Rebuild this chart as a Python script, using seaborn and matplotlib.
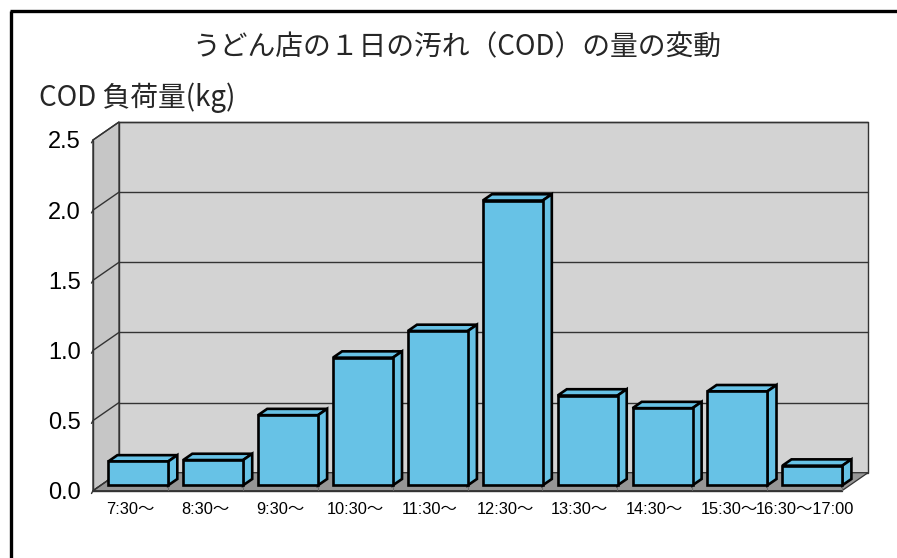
import matplotlib
matplotlib.use("Agg")
import matplotlib.pyplot as plt
from matplotlib.patches import Polygon
from matplotlib.lines import Line2D
from matplotlib import font_manager
import seaborn as sns
import pandas as pd

# ---- data ----
categories = ["7:30～", "8:30～", "9:30～", "10:30～", "11:30～", "12:30～",
              "13:30～", "14:30～", "15:30～", "16:30～17:00"]
cod_kg = [0.17, 0.18, 0.50, 0.91, 1.10, 2.03, 0.64, 0.55, 0.67, 0.14]
y_ticks = [0.0, 0.5, 1.0, 1.5, 2.0, 2.5]
y_tick_labels = ["0.0", "0.5", "1.0", "1.5", "2.0", "2.5"]
title = "うどん店の１日の汚れ（COD）の量の変動"
ylabel = "COD 負荷量(kg)"

sns.set_theme(style="white")
plt.rcParams['font.family'] = ['Noto Sans CJK JP', 'DejaVu Sans']

names = {f.name for f in font_manager.fontManager.ttflist}
narrow = 'Liberation Sans Narrow' if 'Liberation Sans Narrow' in names else 'Liberation Sans'

W, H = 897, 558
fig = plt.figure(figsize=(W / 100, H / 100), dpi=100)
fig.patch.set_facecolor("white")

# front plane of the plot box in pixels
x0p, x1p, ybp, ytp = 93, 842, 490.7, 140
ax = fig.add_axes([x0p / W, (H - ybp) / H, (x1p - x0p) / W, (ybp - ytp) / H])
ax.patch.set_visible(False)
for s in ax.spines.values():
    s.set_visible(False)

df = pd.DataFrame({"time": categories, "cod": cod_kg})
sns.barplot(data=df, x="time", y="cod", color="#67C2E6", saturation=1,
            edgecolor="black", linewidth=1.9, width=0.8, ax=ax, zorder=5)
bars = list(ax.patches)

n = len(categories)
xmin, xmax = -0.5, n - 0.5
ymax = 2.5
ax.set_xlim(xmin, xmax)
ax.set_ylim(0, ymax)

# depth offsets in data units
px_x = (x1p - x0p) / n
px_y = (ybp - ytp) / ymax
DX = 26 / px_x
DY = 18 / px_y

wall_c = "#D3D3D3"
side_c = "#C6C6C6"
floor_c = "#969696"
line_c = "#333333"

# back wall
ax.add_patch(Polygon([(xmin + DX, DY), (xmax + DX, DY), (xmax + DX, ymax + DY),
                      (xmin + DX, ymax + DY)], closed=True, facecolor=wall_c,
                     edgecolor=line_c, lw=1.0, zorder=0, clip_on=False))
# left side wall
ax.add_patch(Polygon([(xmin, 0), (xmin + DX, DY), (xmin + DX, ymax + DY), (xmin, ymax)],
                     closed=True, facecolor=side_c, edgecolor=line_c, lw=1.0,
                     zorder=0.5, clip_on=False))
# floor
ax.add_patch(Polygon([(xmin, 0), (xmax, 0), (xmax + DX, DY), (xmin + DX, DY)],
                     closed=True, facecolor=floor_c, edgecolor=line_c, lw=0.9,
                     zorder=1, clip_on=False))

# gridlines on back and side wall
for v in y_ticks[1:]:
    ax.add_line(Line2D([xmin + DX, xmax + DX], [v + DY, v + DY], color=line_c, lw=1.0,
                       zorder=1.5, clip_on=False))
for v in y_ticks:
    ax.add_line(Line2D([xmin, xmin + DX], [v, v + DY], color=line_c, lw=1.0,
                       zorder=1.5, clip_on=False))
    ax.add_line(Line2D([xmin - 0.02, xmin], [v - 0.02, v], color=line_c, lw=1.0,
                       zorder=1.5, clip_on=False))
ax.add_line(Line2D([xmin, xmin], [0, ymax], color=line_c, lw=1.0, zorder=1.6, clip_on=False))

# category separators on the floor front strip
for b in range(n + 1):
    xb = xmin + b
    ax.add_line(Line2D([xb, xb], [0, 0.3 * DY], color="#707070", lw=0.8,
                       zorder=1.2, clip_on=False))
ax.add_line(Line2D([xmin, xmax], [0, 0], color=line_c, lw=1.0, zorder=1.3, clip_on=False))

# 3D bars: shift front face into depth, add top and side faces
f0, fd = 0.30, 0.35
for p in bars:
    p.set_x(p.get_x() + f0 * DX)
    p.set_y(p.get_y() + f0 * DY)
    p.set_joinstyle("miter")
    p.set_clip_on(False)
    x, y, w, h = p.get_x(), p.get_y(), p.get_width(), p.get_height()
    ddx, ddy = fd * DX, fd * DY
    fc = p.get_facecolor()
    top = Polygon([(x, y + h), (x + w, y + h), (x + w + ddx, y + h + ddy), (x + ddx, y + h + ddy)],
                  closed=True, facecolor=fc, edgecolor="black", lw=1.9, joinstyle="miter",
                  zorder=4.9, clip_on=False)
    side = Polygon([(x + w, y), (x + w + ddx, y + ddy), (x + w + ddx, y + h + ddy), (x + w, y + h)],
                   closed=True, facecolor=fc, edgecolor="black", lw=1.9, joinstyle="miter",
                   zorder=4.9, clip_on=False)
    ax.add_patch(top)
    ax.add_patch(side)

# ticks and labels
ax.set_yticks(y_ticks)
ax.set_yticklabels(y_tick_labels, fontsize=17, family=['Liberation Sans', 'DejaVu Sans'])
ax.tick_params(axis="y", length=0, pad=9, colors="black")
ax.set_xticks(range(n))
ax.set_xticklabels(categories, fontsize=11.8, family=[narrow, 'Noto Sans CJK JP'])
ax.tick_params(axis="x", length=0, pad=8, colors="black")
ax.set_xlabel("")
ax.set_ylabel("")

# title and axis label
fig.text(457 / W, 1 - 47 / H, title, ha="center", va="center", fontsize=20,
         family=['Noto Sans CJK JP', 'DejaVu Sans'])
fig.text(39 / W, 1 - 98 / H, ylabel, ha="left", va="center", fontsize=20,
         family=['Noto Sans CJK JP', 'DejaVu Sans'])

# chart border (left and top edges visible)
fig.add_artist(Line2D([10.5 / W, 10.5 / W], [0, 1 - 11 / H], color="black", lw=2.4,
                      solid_capstyle="butt", transform=fig.transFigure))
fig.add_artist(Line2D([9.5 / W, 1.0], [1 - 11 / H, 1 - 11 / H], color="black", lw=2.4,
                      solid_capstyle="butt", transform=fig.transFigure))

fig.savefig("out.png", dpi=100)
